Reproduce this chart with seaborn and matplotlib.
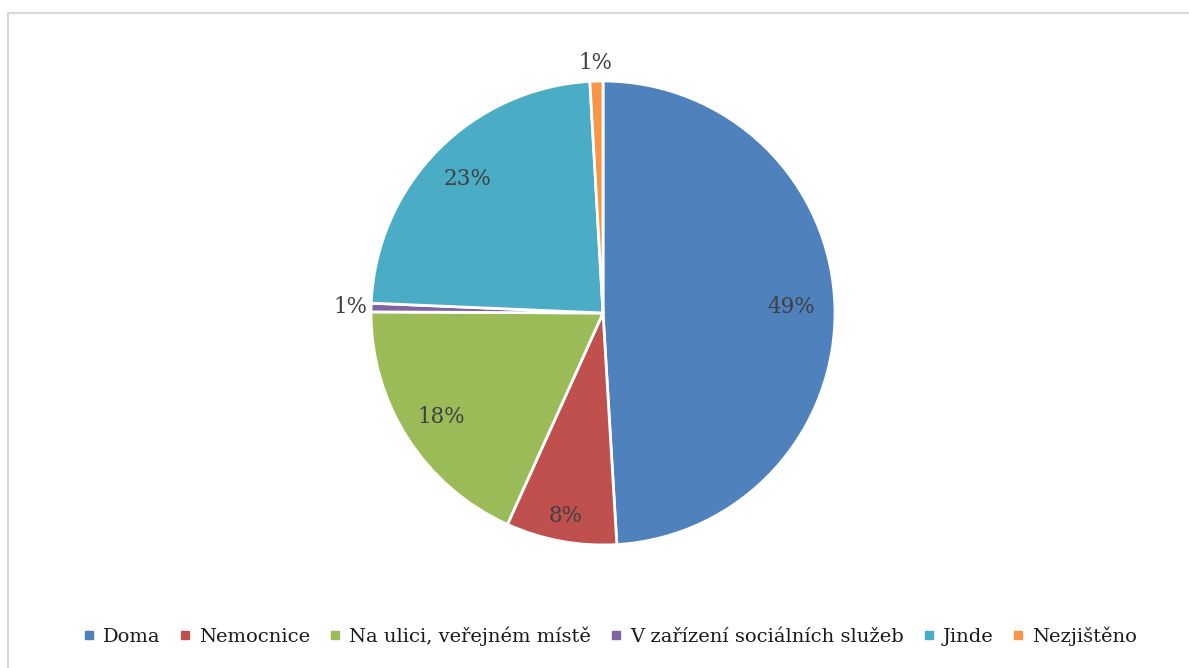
import matplotlib
matplotlib.use("Agg")
import matplotlib.pyplot as plt
from matplotlib.lines import Line2D
from matplotlib.patches import Rectangle
import numpy as np
import seaborn as sns

categories = ["Doma", "Nemocnice", "Na ulici, veřejném místě",
              "V zařízení sociálních služeb", "Jinde", "Nezjištěno"]
values = [49.0, 7.7, 18.3, 0.6, 23.4, 0.9]
colors = ["#4F81BD", "#C0504D", "#9BBB59", "#8064A2", "#4BACC6", "#F79646"]
label_dist = [0.81, 0.89, 0.83, 1.09, 0.82, 1.08]

sns.set_theme(style="white")
plt.rcParams['font.family'] = ['DejaVu Serif']

W, H = 1189, 668
fig = plt.figure(figsize=(W / 100, H / 100), dpi=100)
fig.patch.set_facecolor("white")

# border
fig.patches.append(Rectangle((7.5 / W, -0.1), 1.2, 1 - 13.5 / H + 0.1,
                             transform=fig.transFigure, fill=False,
                             edgecolor="#D9D9D9", linewidth=1.5))

cx, cy, r = 603, 313, 232
ax = fig.add_axes([(cx - r) / W, (H - cy - r) / H, 2 * r / W, 2 * r / H])

pal = sns.color_palette(colors)
wedges, texts, autotexts = ax.pie(
    values, colors=pal, startangle=90, counterclock=False,
    autopct=lambda p: f"{p:.0f}%", pctdistance=0.81,
    wedgeprops=dict(edgecolor="white", linewidth=2.0),
    textprops=dict(fontsize=15.5, color="#404040"))
ax.set_xlim(-1, 1)
ax.set_ylim(-1, 1)
ax.set_aspect("equal")
ax.axis("off")

for w, t, d in zip(wedges, autotexts, label_dist):
    t.set_clip_on(False)
    ang = np.deg2rad((w.theta1 + w.theta2) / 2)
    t.set_position((d * np.cos(ang), d * np.sin(ang)))

handles = [Line2D([], [], marker="s", linestyle="none", markersize=6,
                  markerfacecolor=c, markeredgecolor=c) for c in colors]
fig.legend(handles, categories, loc="center", ncol=6,
           bbox_to_anchor=(610 / W, 1 - 636 / H), frameon=False,
           fontsize=14, handlelength=0.6, handletextpad=0.4,
           columnspacing=1.0, labelcolor="#1a1a1a")

fig.savefig("out.png", dpi=100, facecolor="white")
